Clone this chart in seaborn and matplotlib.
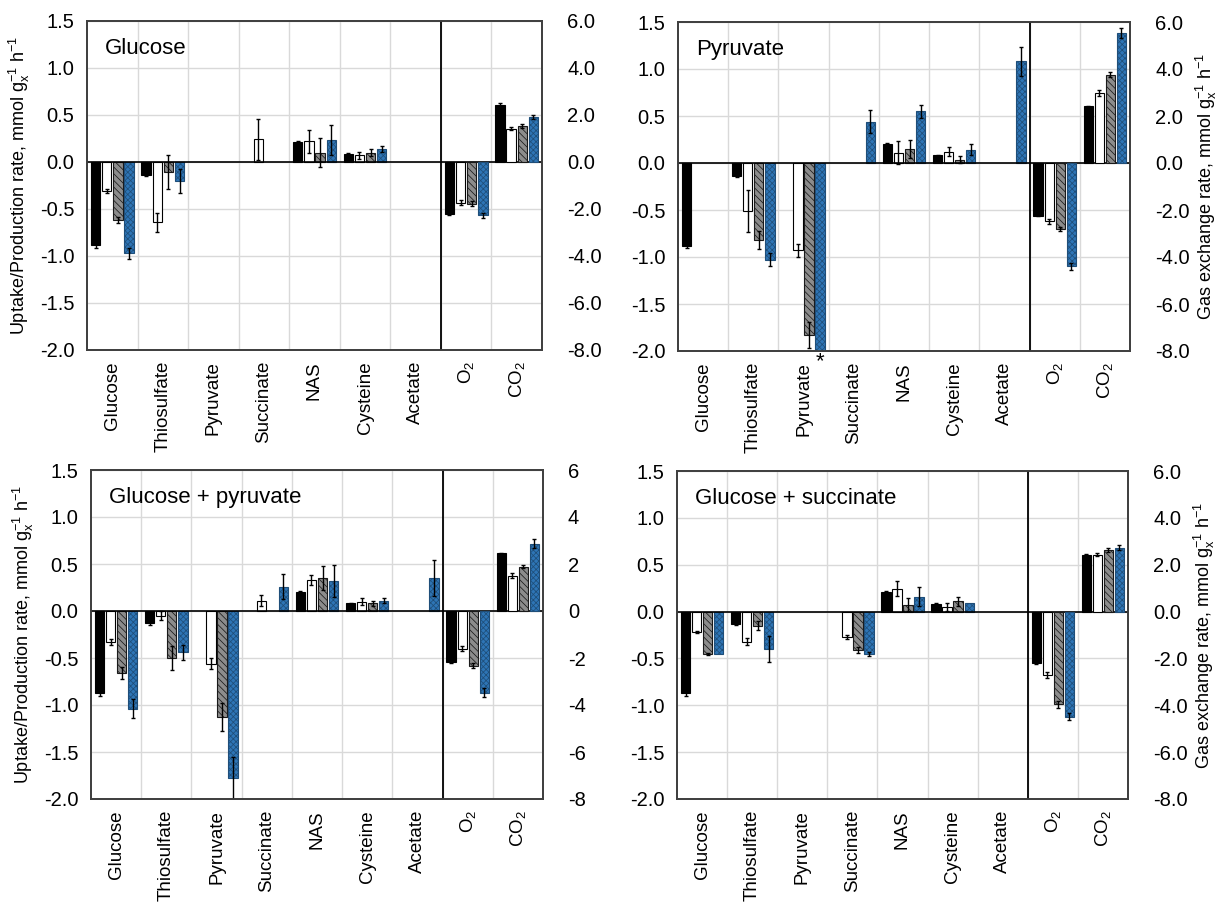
import numpy as np
import pandas as pd
import matplotlib
matplotlib.use("Agg")
import matplotlib.pyplot as plt
import seaborn as sns

# Categories: metabolites (left axis) and gases (right axis)
metabolites = ["Glucose", "Thiosulfate", "Pyruvate", "Succinate", "NAS", "Cysteine", "Acetate"]
gases = ["O2", "CO2"]
gas_labels = [r"O$_\mathregular{2}$", r"CO$_\mathregular{2}$"]
series = ["s1", "s2", "s3", "s4"]
nan = np.nan

# Metabolite rates (mmol gx-1 h-1), one list per series, ordered as `metabolites`
glc_s1 = [-0.88, -0.14, nan, nan, 0.21, 0.085, nan]
glc_s2 = [-0.31, -0.64, nan, 0.24, 0.22, 0.07, nan]
glc_s3 = [-0.62, -0.11, nan, nan, 0.10, 0.10, nan]
glc_s4 = [-0.97, -0.20, nan, nan, 0.23, 0.14, nan]
glc_e1 = [0.03, 0.01, nan, nan, 0.01, 0.01, nan]
glc_e2 = [0.02, 0.10, nan, 0.22, 0.12, 0.035, nan]
glc_e3 = [0.03, 0.18, nan, nan, 0.15, 0.04, nan]
glc_e4 = [0.06, 0.13, nan, nan, 0.16, 0.035, nan]
glc_gas_s1 = [-2.20, 2.44]
glc_gas_s2 = [-1.73, 1.42]
glc_gas_s3 = [-1.77, 1.52]
glc_gas_s4 = [-2.27, 1.91]
glc_gas_e1 = [0.05, 0.05]
glc_gas_e2 = [0.10, 0.07]
glc_gas_e3 = [0.10, 0.08]
glc_gas_e4 = [0.10, 0.10]

pyr_s1 = [-0.88, -0.14, nan, nan, 0.20, 0.08, nan]
pyr_s2 = [nan, -0.51, -0.93, nan, 0.11, 0.12, nan]
pyr_s3 = [nan, -0.82, -1.83, nan, 0.15, 0.035, nan]
pyr_s4 = [nan, -1.03, -2.45, 0.44, 0.55, 0.14, 1.08]
pyr_e1 = [0.02, 0.01, nan, nan, 0.01, 0.01, nan]
pyr_e2 = [nan, 0.22, 0.07, nan, 0.12, 0.05, nan]
pyr_e3 = [nan, 0.10, 0.14, nan, 0.10, 0.04, nan]
pyr_e4 = [nan, 0.07, 0.0, 0.12, 0.07, 0.06, 0.15]
pyr_gas_s1 = [-2.24, 2.41]
pyr_gas_s2 = [-2.48, 2.98]
pyr_gas_s3 = [-2.81, 3.76]
pyr_gas_s4 = [-4.40, 5.53]
pyr_gas_e1 = [0.03, 0.03]
pyr_gas_e2 = [0.10, 0.12]
pyr_gas_e3 = [0.10, 0.12]
pyr_gas_e4 = [0.15, 0.20]

gp_s1 = [-0.87, -0.13, nan, nan, 0.20, 0.08, nan]
gp_s2 = [-0.33, -0.05, -0.56, 0.11, 0.33, 0.10, nan]
gp_s3 = [-0.66, -0.50, -1.13, nan, 0.35, 0.08, nan]
gp_s4 = [-1.04, -0.44, -1.78, 0.26, 0.32, 0.11, 0.35]
gp_e1 = [0.03, 0.02, nan, nan, 0.01, 0.01, nan]
gp_e2 = [0.03, 0.05, 0.06, 0.06, 0.05, 0.04, nan]
gp_e3 = [0.06, 0.13, 0.15, nan, 0.13, 0.03, nan]
gp_e4 = [0.10, 0.08, 0.23, 0.13, 0.17, 0.03, 0.19]
gp_gas_s1 = [-2.18, 2.45]
gp_gas_s2 = [-1.61, 1.51]
gp_gas_s3 = [-2.32, 1.89]
gp_gas_s4 = [-3.48, 2.86]
gp_gas_e1 = [0.03, 0.03]
gp_gas_e2 = [0.10, 0.10]
gp_gas_e3 = [0.10, 0.07]
gp_gas_e4 = [0.20, 0.20]

gs_s1 = [-0.87, -0.13, nan, nan, 0.21, 0.085, nan]
gs_s2 = [-0.22, -0.32, nan, -0.27, 0.245, 0.05, nan]
gs_s3 = [-0.45, -0.15, nan, -0.41, 0.075, 0.11, nan]
gs_s4 = [-0.45, -0.40, nan, -0.45, 0.16, 0.095, nan]
gs_e1 = [0.03, 0.01, nan, nan, 0.01, 0.01, nan]
gs_e2 = [0.01, 0.04, nan, 0.02, 0.08, 0.04, nan]
gs_e3 = [0.01, 0.05, nan, 0.03, 0.07, 0.05, nan]
gs_e4 = [0.0, 0.14, nan, 0.02, 0.10, 0.0, nan]
gs_gas_s1 = [-2.19, 2.43]
gs_gas_s2 = [-2.71, 2.43]
gs_gas_s3 = [-3.95, 2.64]
gs_gas_s4 = [-4.49, 2.73]
gs_gas_e1 = [0.03, 0.03]
gs_gas_e2 = [0.12, 0.07]
gs_gas_e3 = [0.15, 0.08]
gs_gas_e4 = [0.15, 0.10]

panels = [
    ("Glucose", [glc_s1, glc_s2, glc_s3, glc_s4], [glc_e1, glc_e2, glc_e3, glc_e4],
     [glc_gas_s1, glc_gas_s2, glc_gas_s3, glc_gas_s4], [glc_gas_e1, glc_gas_e2, glc_gas_e3, glc_gas_e4]),
    ("Pyruvate", [pyr_s1, pyr_s2, pyr_s3, pyr_s4], [pyr_e1, pyr_e2, pyr_e3, pyr_e4],
     [pyr_gas_s1, pyr_gas_s2, pyr_gas_s3, pyr_gas_s4], [pyr_gas_e1, pyr_gas_e2, pyr_gas_e3, pyr_gas_e4]),
    ("Glucose + pyruvate", [gp_s1, gp_s2, gp_s3, gp_s4], [gp_e1, gp_e2, gp_e3, gp_e4],
     [gp_gas_s1, gp_gas_s2, gp_gas_s3, gp_gas_s4], [gp_gas_e1, gp_gas_e2, gp_gas_e3, gp_gas_e4]),
    ("Glucose + succinate", [gs_s1, gs_s2, gs_s3, gs_s4], [gs_e1, gs_e2, gs_e3, gs_e4],
     [gs_gas_s1, gs_gas_s2, gs_gas_s3, gs_gas_s4], [gs_gas_e1, gs_gas_e2, gs_gas_e3, gs_gas_e4]),
]

left_ticks = [-2.0, -1.5, -1.0, -0.5, 0.0, 0.5, 1.0, 1.5]
right_ticks = [-8, -6, -4, -2, 0, 2, 4, 6]

sns.set_theme(style="white")
plt.rcParams["font.family"] = ["Liberation Sans", "DejaVu Sans"]
plt.rcParams["mathtext.fontset"] = "custom"
plt.rcParams["mathtext.rm"] = "Liberation Sans"
plt.rcParams["mathtext.it"] = "Liberation Sans:italic"
plt.rcParams["hatch.linewidth"] = 0.55
for key in ("text.color", "axes.labelcolor", "xtick.color", "ytick.color"):
    plt.rcParams[key] = "black"

face = ["#000000", "#ffffff", "#8c8c8c", "#2e75b6"]
hatches = [None, None, "\\\\\\\\\\", "xxxxxx"]
hatch_edge = ["black", "black", "#1a1a1a", "#1f4e79"]

categories = metabolites + gases
W = 1222
H = 902
fig = plt.figure(figsize=(W / 100, H / 100), dpi=100)

boxes = [(87, 542, 21, 350), (678, 1130, 22, 351), (91, 543, 470, 799), (677, 1128, 471, 799)]

WIDTH = 0.88
GAP = 0.16
STEP = WIDTH / 4


def long_frame(names, values, errors):
    rows = []
    for s, vals, errs in zip(series, values, errors):
        for c, v, e in zip(names, vals, errs):
            if not np.isnan(v):
                rows.append({"cat": c, "series": s, "value": v, "err": e})
    return pd.DataFrame(rows)


def draw_bars(ax, df):
    sns.barplot(data=df, x="cat", y="value", hue="series", order=categories,
                hue_order=series, palette=face, width=WIDTH, gap=GAP,
                errorbar=None, legend=False, ax=ax, saturation=1,
                edgecolor="black", linewidth=0.8, zorder=3)
    lookup = {(r.cat, r.series): r.err for r in df.itertuples()}
    for p in ax.patches:
        xc = p.get_x() + p.get_width() / 2
        ci = int(round(xc))
        si = int(round((xc - ci) / STEP + 1.5))
        if hatches[si]:
            p.set_hatch(hatches[si])
            p.set_edgecolor(hatch_edge[si])
        err = lookup.get((categories[ci], series[si]), 0)
        h = p.get_height()
        if err and not np.isnan(err):
            ax.errorbar(xc, h, yerr=err, fmt="none", ecolor="black",
                        elinewidth=1.0, capsize=1.6, capthick=1.0, zorder=4)


for k, (title, vals, errs, gvals, gerrs) in enumerate(panels):
    l, r, t, b = boxes[k]
    ax = fig.add_axes([l / W, 1 - b / H, (r - l) / W, (b - t) / H])
    ax2 = ax.twinx()

    draw_bars(ax, long_frame(metabolites, vals, errs))
    draw_bars(ax2, long_frame(gases, gvals, gerrs))

    for a in (ax, ax2):
        a.set_xlim(-0.5, len(categories) - 0.5)
        a.set_xlabel("")
        a.set_ylabel("")
    ax.set_ylim(-2.0, 1.5)
    ax2.set_ylim(-8, 6)

    # grid: category boundaries and y ticks
    ax.set_xticks(np.arange(len(categories)))
    ax.set_xticks(np.arange(0.5, len(categories) - 1, 1.0), minor=True)
    ax.set_xticklabels(metabolites + gas_labels, rotation=90, fontsize=13.5)
    ax.tick_params(axis="x", which="both", length=0, pad=8)
    ax.set_yticks(left_ticks)
    ax.set_yticklabels([f"{v:.1f}" for v in left_ticks], fontsize=14.5)
    ax.tick_params(axis="y", length=0, pad=9)
    ax.grid(True, which="minor", axis="x", color="#d9d9d9", linewidth=1.0, zorder=0)
    ax.grid(True, which="major", axis="y", color="#d9d9d9", linewidth=1.0, zorder=0)
    ax.set_axisbelow(True)
    ax.axhline(0, color="black", linewidth=1.2, zorder=5)
    ax.axvline(len(metabolites) - 0.5, color="black", linewidth=1.3, zorder=5)

    ax2.set_yticks(right_ticks)
    if k == 2:
        ax2.set_yticklabels([f"{v:d}" for v in right_ticks], fontsize=14.5)
    else:
        ax2.set_yticklabels([f"{v:.1f}" for v in right_ticks], fontsize=14.5)
    ax2.tick_params(axis="y", length=0, pad=18)
    ax2.grid(False)

    for a in (ax, ax2):
        for sp in a.spines.values():
            sp.set_color("#404040")
            sp.set_linewidth(1.3)

    ax.text(0.04, 0.915, title, transform=ax.transAxes, fontsize=16,
            ha="left", va="center", zorder=6)

    if k % 2 == 0:
        ax.set_ylabel(r"Uptake/Production rate, mmol g$_\mathregular{x}^\mathregular{-1}$ h$^\mathregular{-1}$",
                      fontsize=13, labelpad=6)
    else:
        ax2.set_ylabel(r"Gas exchange rate, mmol g$_\mathregular{x}^\mathregular{-1}$ h$^\mathregular{-1}$",
                       fontsize=13, labelpad=3)

    if title == "Pyruvate":
        xc = metabolites.index("Pyruvate") + (3 - 1.5) * STEP
        ax.text(xc, -2.0, "*", transform=ax.transData, fontsize=16,
                ha="center", va="top", clip_on=False)

fig.savefig("out.png", dpi=100)
